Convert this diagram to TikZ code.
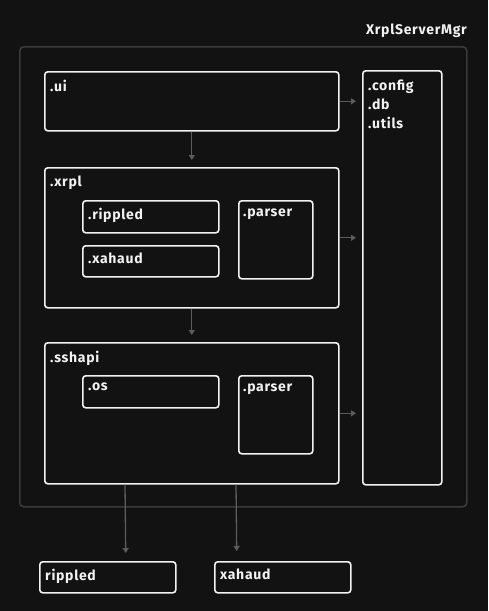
\documentclass[tikz,border=0pt]{standalone}
\usepackage{fontspec}
\setmainfont{Fira Sans}[LetterSpace=5]
\usetikzlibrary{arrows.meta}
\definecolor{BgDark}{HTML}{121212}
\definecolor{FrameGray}{HTML}{3A3A3C}
\definecolor{LinkGray}{HTML}{5C5C5C}
\definecolor{BoxWhite}{HTML}{F2F2F2}

\tikzset{
  module/.style={draw=BoxWhite, line width=1.6pt, rounded corners=3pt,
                 fill=BgDark, anchor=north west, inner sep=0pt},
  tag/.style={text=BoxWhite, font=\fontsize{14}{19}\selectfont\bfseries,
              anchor=north west, inner sep=0pt, align=left},
  flow/.style={-{Triangle[width=6pt,length=5pt]}, LinkGray, line width=1.3pt},
}

\begin{document}
\begin{tikzpicture}[x=1pt, y=-1pt]
      \fill[BgDark] (0,0) rectangle (488,611);
      \useasboundingbox (0,0) rectangle (488,611);

      % outer frame
      \node[draw=FrameGray, line width=1.6pt, rounded corners=4pt, inner sep=0pt,
            minimum width=447pt, minimum height=460pt, anchor=north west] (mgr) at (19,46) {};
      \node[tag, anchor=base east] (mgrtag) at (467,34) {XrplServerMgr};

      % modules
      \node[module, minimum width=294pt, minimum height=59pt] (ui) at (44,71) {};
      \node[module, minimum width=79pt, minimum height=414pt] (cfg) at (362,70) {};
      \node[module, minimum width=294pt, minimum height=140pt] (xrpl) at (44,167) {};
      \node[module, minimum width=136pt, minimum height=32pt] (rip) at (82,200) {};
      \node[module, minimum width=136pt, minimum height=31pt] (xah) at (82,245) {};
      \node[module, minimum width=74pt, minimum height=78pt] (xparse) at (238,200) {};
      \node[module, minimum width=294pt, minimum height=141pt] (ssh) at (44,342) {};
      \node[module, minimum width=136pt, minimum height=32pt] (os) at (82,375) {};
      \node[module, minimum width=74pt, minimum height=78pt] (sparse) at (238,375) {};

      % external
      \node[module, minimum width=136pt, minimum height=31pt] (riptool) at (39,561) {};
      \node[module, minimum width=136pt, minimum height=31pt] (xahtool) at (214,561) {};

      % texts
      \node[tag] at ([xshift=6pt, yshift=-9pt]ui.north west) {.ui};
      \node[tag] at ([xshift=6pt, yshift=-10pt]cfg.north west) {.config\\.db\\.utils};
      \node[tag] at ([xshift=6pt, yshift=-9pt]xrpl.north west) {.xrpl};
      \node[tag] at ([xshift=6pt, yshift=-8pt]rip.north west) {.rippled};
      \node[tag] at ([xshift=6pt, yshift=-8pt]xah.north west) {.xahaud};
      \node[tag] at ([xshift=5pt, yshift=-9pt]xparse.north west) {.parser};
      \node[tag] at ([xshift=6pt, yshift=-9pt]ssh.north west) {.sshapi};
      \node[tag] at ([xshift=6pt, yshift=-8pt]os.north west) {.os};
      \node[tag] at ([xshift=5pt, yshift=-9pt]sparse.north west) {.parser};
      \node[tag] at ([xshift=6pt, yshift=-8pt]riptool.north west) {rippled};
      \node[tag] at ([xshift=6pt, yshift=-8pt]xahtool.north west) {xahaud};

      % links
      \draw[flow, shorten >=6pt] (ui.east) -- (ui.east -| cfg.west);
      \draw[flow, shorten >=6pt] (xrpl.east) -- (xrpl.east -| cfg.west);
      \draw[flow, shorten >=6pt] (ssh.east) -- (ssh.east -| cfg.west);
      \draw[flow, shorten >=7pt] (ui.south) -- (xrpl.north);
      \draw[flow, shorten >=7pt] (xrpl.south) -- (ssh.north);
      \draw[flow, shorten >=8pt] ([xshift=81pt]ssh.south west) -- ([xshift=18pt]riptool.north);
      \draw[flow, shorten >=10pt] ([xshift=192pt]ssh.south west) -- ([xshift=-46pt]xahtool.north);
    \end{tikzpicture}
\end{document}
